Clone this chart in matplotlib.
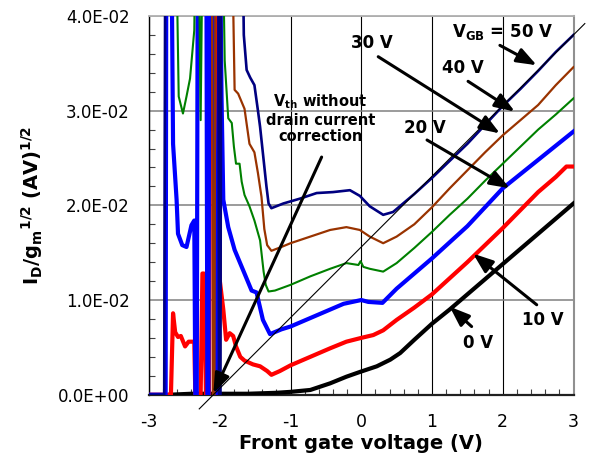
import matplotlib
matplotlib.use("Agg")
import matplotlib.pyplot as plt
from matplotlib.ticker import FixedLocator, MultipleLocator

plt.rcParams['font.family'] = ['DejaVu Sans']
plt.rcParams['mathtext.fontset'] = 'dejavusans'
plt.rcParams['mathtext.default'] = 'regular'
plt.rcParams['axes.unicode_minus'] = False

# ---------------- data ----------------
x_ticks = [-3, -2, -1, 0, 1, 2, 3]
x_tick_labels = ['-3', '-2', '-1', '0', '1', '2', '3']
y_ticks = [0.0, 0.01, 0.02, 0.03, 0.04]
y_tick_labels = ['0.0E+00', '1.0E-02', '2.0E-02', '3.0E-02', '4.0E-02']

series_names = ['0 V', '10 V', '20 V', '30 V', '40 V', '50 V']

x_0v = [-2.7, -2.4, -2.0, -1.6, -1.2, -1.0, -0.72, -0.44, -0.21, -0.02, 0.22, 0.41,
        0.55, 0.75, 1.0, 1.25, 1.5, 1.75, 2.0, 2.25, 2.5, 2.75, 3.0]
y_0v = [0.0, 0.0001, 0.0001, 0.0001, 0.0002, 0.0003, 0.0005, 0.0012, 0.0019, 0.0024, 0.003, 0.0037,
        0.0044, 0.0058, 0.0075, 0.009, 0.0106, 0.0122, 0.0138, 0.0154, 0.017, 0.0186, 0.0202]

x_10v = [-3.0, -2.69, -2.66, -2.63, -2.59, -2.55, -2.49, -2.44, -2.36, -2.345, -2.27, -2.245,
         -2.225, -2.195, -2.15, -2.13, -2.06, -2.0, -1.95, -1.91, -1.86, -1.81, -1.77, -1.71,
         -1.65, -1.53, -1.43, -1.33, -1.27, -1.15, -1.0, -0.72, -0.44, -0.21, 0.0, 0.17, 0.31,
         0.5, 0.75, 1.0, 1.25, 1.5, 1.75, 2.0, 2.25, 2.5, 2.75, 2.9, 3.0]
y_10v = [0.0, 0.0, 0.0086, 0.0066, 0.0061, 0.0062, 0.0051, 0.0056, 0.0056, 0.0, 0.0, 0.0128,
         0.0128, 0.0, 0.0, 0.05, 0.05, 0.0121, 0.009, 0.0058, 0.0065, 0.0062, 0.0051, 0.004,
         0.0036, 0.0032, 0.003, 0.0025, 0.0021, 0.0025, 0.0031, 0.004, 0.0049, 0.0056, 0.006, 0.0063, 0.0068,
         0.0079, 0.0092, 0.0106, 0.0123, 0.014, 0.0158, 0.0176, 0.0195, 0.0214, 0.023, 0.0241, 0.0241]

x_20v = [-3.0, -2.765, -2.755, -2.685, -2.66, -2.61, -2.59, -2.53, -2.47, -2.40, -2.36, -2.345,
         -2.325, -2.31, -2.19, -2.175, -2.16, -2.145, -2.09, -2.08, -2.045, -2.025, -2.0, -1.975,
         -1.95, -1.88, -1.79, -1.65, -1.55, -1.48, -1.39, -1.29, -1.13, -1.0, -0.75, -0.5, -0.25,
         0.0, 0.1, 0.3, 0.5, 0.75, 1.0, 1.25, 1.5, 1.75, 2.0, 2.25, 2.5, 2.75, 3.0]
y_20v = [0.0, 0.0, 0.05, 0.05, 0.0265, 0.0206, 0.017, 0.0158, 0.0156, 0.0179, 0.0184, 0.0,
         0.0, 0.05, 0.05, 0.0, 0.0, 0.05, 0.05, 0.034, 0.0, 0.0, 0.05, 0.0315,
         0.0206, 0.0177, 0.0153, 0.0128, 0.011, 0.0108, 0.0079, 0.0064, 0.0069, 0.0072, 0.008, 0.0088, 0.0096,
         0.01, 0.0098, 0.0097, 0.0112, 0.0128, 0.0144, 0.0161, 0.0178, 0.0198, 0.0218, 0.0233, 0.0248, 0.0263, 0.0278]

x_30v = [-2.62, -2.58, -2.52, -2.47, -2.42, -2.36, -2.34, -2.30, -2.27, -2.24, -1.96, -1.93,
         -1.88, -1.83, -1.80, -1.77, -1.72, -1.69, -1.65, -1.58, -1.51, -1.43, -1.38, -1.35,
         -1.31, -1.22, -1.0, -0.72, -0.44, -0.21, -0.04, -0.01, 0.03, 0.12, 0.31, 0.5, 0.75,
         1.0, 1.25, 1.5, 1.75, 2.0, 2.25, 2.5, 2.75, 3.0]
y_30v = [0.05, 0.0315, 0.0297, 0.0315, 0.0334, 0.0385, 0.05, 0.05, 0.029, 0.05, 0.05, 0.0353,
         0.0292, 0.0287, 0.0262, 0.0244, 0.0244, 0.0225, 0.0211, 0.0199, 0.0184, 0.0163, 0.013, 0.0116,
         0.0109, 0.011, 0.0116, 0.0125, 0.0133, 0.0139, 0.0137, 0.0141, 0.0135, 0.0133, 0.013, 0.0139, 0.0155,
         0.0172, 0.019, 0.0207, 0.0226, 0.0244, 0.0262, 0.028, 0.0296, 0.0313]

x_40v = [-2.11, -2.095, -2.075, -2.06, -1.83, -1.79, -1.74, -1.65, -1.58, -1.51, -1.46, -1.41,
         -1.37, -1.33, -1.27, -1.13, -1.0, -0.72, -0.44, -0.21, -0.02, 0.12, 0.31, 0.5,
         0.75, 1.0, 1.25, 1.5, 1.75, 2.0, 2.25, 2.5, 2.75, 3.0]
y_40v = [0.05, 0.0, 0.0, 0.05, 0.05, 0.0322, 0.0318, 0.0302, 0.0265, 0.0256, 0.0234, 0.0209,
         0.0175, 0.0158, 0.0152, 0.0156, 0.016, 0.0167, 0.0174, 0.0177, 0.0174, 0.0167, 0.016, 0.0167,
         0.018, 0.0198, 0.0218, 0.0237, 0.0256, 0.0274, 0.029, 0.0306, 0.0327, 0.0346]

x_50v = [-3.0, -2.785, -2.77, -2.02, -2.01, -1.99, -1.98, -1.68, -1.66, -1.62, -1.57, -1.51,
         -1.46, -1.43, -1.38, -1.34, -1.31, -1.27, -1.10, -0.87, -0.63, -0.40, -0.16, -0.02,
         0.12, 0.31, 0.45, 0.75, 1.0, 1.25, 1.5, 1.75, 2.0, 2.25, 2.5, 2.75, 3.0]
y_50v = [0.0, 0.0, 0.05, 0.05, 0.0, 0.0, 0.05, 0.05, 0.038, 0.0343, 0.0335, 0.0327,
         0.03, 0.0283, 0.0248, 0.022, 0.0202, 0.0197, 0.0202, 0.0207, 0.0213, 0.0214, 0.0216, 0.021,
         0.0199, 0.019, 0.0193, 0.0212, 0.0229, 0.0247, 0.0265, 0.0285, 0.0305, 0.0323, 0.0342, 0.0362, 0.038]

# linear extrapolation line for Vth
fit_x = [-2.29, 3.16]
fit_y = [-0.0015, 0.0392]

# ---------------- styles ----------------
series = [
    (x_0v, y_0v, '#000000', 3.0),
    (x_10v, y_10v, '#ff0000', 3.0),
    (x_20v, y_20v, '#0000ff', 3.0),
    (x_30v, y_30v, '#008000', 1.5),
    (x_40v, y_40v, '#993300', 1.6),
    (x_50v, y_50v, '#000080', 1.9),
]

fig = plt.figure(figsize=(5.97, 4.66), dpi=100)
ax = fig.add_axes([149 / 597, 71.3 / 466, 424.5 / 597, 378.7 / 466])

for i, (xs, ys, c, lw) in enumerate(series):
    ax.plot(xs, ys, color=c, lw=lw, solid_joinstyle='round', zorder=3 + i, label=series_names[i])

ax.plot(fit_x, fit_y, color='black', lw=0.8, zorder=10, clip_on=False)

ax.set_xlim(-3, 3)
ax.set_ylim(0, 0.04)
ax.xaxis.set_major_locator(FixedLocator(x_ticks))
ax.set_xticklabels(x_tick_labels)
ax.yaxis.set_major_locator(FixedLocator(y_ticks))
ax.set_yticklabels(y_tick_labels)
ax.xaxis.set_minor_locator(MultipleLocator(0.2))
ax.yaxis.set_minor_locator(MultipleLocator(0.002))
ax.tick_params(which='major', length=0, colors='black')
ax.tick_params(axis='x', which='major', pad=13, labelsize=12.5)
ax.tick_params(axis='y', which='major', pad=14, labelsize=12)
ax.tick_params(which='minor', direction='in', length=4, width=0.8, color='#404040')

ax.set_axisbelow(True)
ax.xaxis.grid(True, which='major', color='black', lw=0.8)
ax.yaxis.grid(True, which='major', color='#808080', lw=1.1)

ax.spines['left'].set_color('black')
ax.spines['left'].set_linewidth(1.0)
ax.spines['bottom'].set_color('#202020')
ax.spines['bottom'].set_linewidth(1.6)
ax.spines['top'].set_color('#b0b0b0')
ax.spines['top'].set_linewidth(1.3)
ax.spines['right'].set_color('#909090')
ax.spines['right'].set_linewidth(1.5)

ax.set_xlabel('Front gate voltage (V)', fontsize=14, fontweight='bold')
ax.xaxis.set_label_coords(0.5, -0.105)
ax.set_ylabel(r'I$_\mathbf{D}$/g$_\mathbf{m}$$^{1/2}$ (AV)$^{1/2}$', fontsize=14, fontweight='bold')
ax.yaxis.set_label_coords(-0.245, 0.5)

# ---------------- annotations ----------------
arrow_props = dict(arrowstyle='-|>,head_length=0.8,head_width=0.3', lw=2.2, color='black',
                   mutation_scale=15, shrinkA=0, shrinkB=0)

labels = [
    (r'$\mathbf{V_{GB}}$ = 50 V', (2.0, 0.0383), (1.96, 0.0369), (2.48, 0.0348)),
    ('40 V', (1.44, 0.0345), (1.51, 0.0331), (2.17, 0.0299)),
    ('30 V', (0.15, 0.0371), (0.24, 0.0357), (1.96, 0.0276)),
    ('20 V', (0.90, 0.0282), (0.93, 0.0269), (2.10, 0.0218)),
    ('10 V', (2.57, 0.0079), (2.48, 0.0095), (1.58, 0.0149)),
    ('0 V', (1.65, 0.0055), (1.56, 0.0072), (1.25, 0.0093)),
]
for txt, tpos, tail, tip in labels:
    ax.annotate('', xy=tip, xytext=tail, arrowprops=arrow_props, zorder=12)
    ax.text(tpos[0], tpos[1], txt, fontsize=12, fontweight='bold', ha='center', va='center', zorder=13)

ax.annotate('', xy=(-2.09, 0.00015), xytext=(-0.56, 0.0251), arrowprops=arrow_props, zorder=12)
ax.text(-0.58, 0.0292, 'V$_{th}$ without\ndrain current\ncorrection', fontsize=10.5,
        fontweight='bold', ha='center', va='center', multialignment='center', linespacing=1.15, zorder=13)

fig.savefig('out.png', dpi=100)
